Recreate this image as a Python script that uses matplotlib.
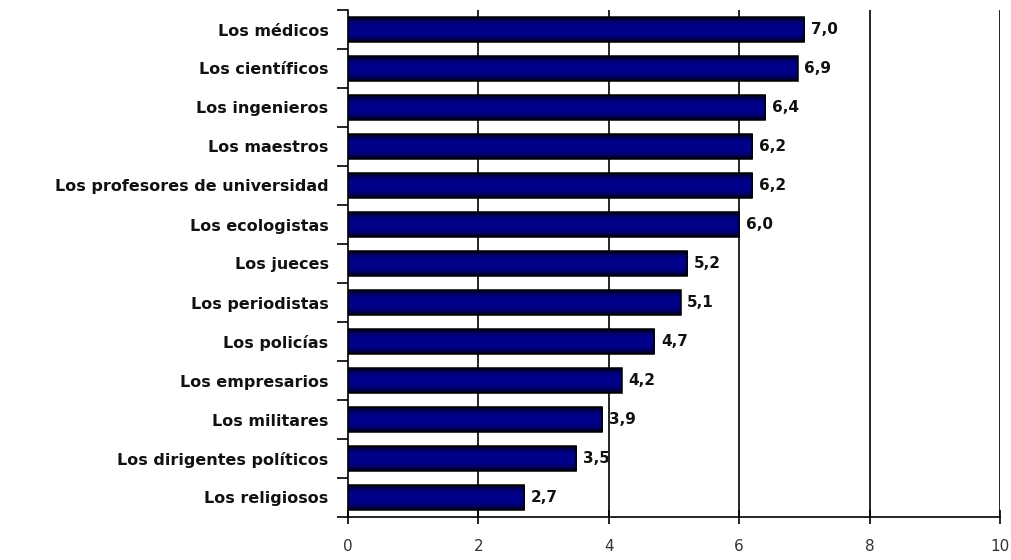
import matplotlib
matplotlib.use("Agg")
import matplotlib.pyplot as plt
import numpy as np
from matplotlib.colors import LinearSegmentedColormap

categories = ["Los médicos", "Los científicos", "Los ingenieros", "Los maestros",
              "Los profesores de universidad", "Los ecologistas", "Los jueces",
              "Los periodistas", "Los policías", "Los empresarios", "Los militares",
              "Los dirigentes políticos", "Los religiosos"]
values = [7.0, 6.9, 6.4, 6.2, 6.2, 6.0, 5.2, 5.1, 4.7, 4.2, 3.9, 3.5, 2.7]
xticks = [0, 2, 4, 6, 8, 10]

fig = plt.figure(figsize=(10.12, 5.6), dpi=100)
ax = fig.add_axes([348/1012, 1-517/560, 652/1012, 507/560])

n = len(categories)
ypos = np.arange(n)[::-1]
h = 0.62

grad = np.array([0.0, 0.55, 0.85, 1.0, 1.0, 1.0, 1.0, 0.85, 0.55, 0.0]).reshape(-1, 1)
cmap = LinearSegmentedColormap.from_list("navy", ["#000028", "#00008a"])

for y, v in zip(ypos, values):
    ax.imshow(grad, extent=[0, v, y - h/2, y + h/2], aspect='auto', cmap=cmap,
              vmin=0.0, vmax=1.0, zorder=2, interpolation='bilinear')
    ax.barh(y, v, height=h, facecolor='none', edgecolor='black', linewidth=1.1, zorder=3)
    ax.text(v + 0.1, y, f"{v:.1f}".replace(".", ","), va='center', ha='left',
            fontsize=11, fontweight='bold', color='#111111', zorder=4)

ax.set_xlim(0, 10)
ax.set_ylim(-0.5, n - 0.5)
ax.set_xticks(xticks)
ax.set_xticklabels([str(t) for t in xticks], fontsize=11, color='#333333')
ax.tick_params(axis='x', direction='inout', length=10, width=1.2, pad=11)
ax.set_yticks(np.arange(n + 1) - 0.5)
ax.set_yticklabels([])
ax.tick_params(axis='y', direction='out', length=8, width=1.2)
ax.set_yticks(ypos, minor=True)
ax.set_yticklabels(categories, minor=True, fontsize=11.5, fontweight='bold', color='#111111')
ax.tick_params(axis='y', which='minor', length=0, pad=14)

for x in xticks[1:]:
    ax.axvline(x, color='black', linewidth=1.2, zorder=1)

for s in ['top', 'right']:
    ax.spines[s].set_visible(False)
ax.spines['left'].set_linewidth(1.2)
ax.spines['bottom'].set_linewidth(1.2)

fig.savefig("out.png", dpi=100)
